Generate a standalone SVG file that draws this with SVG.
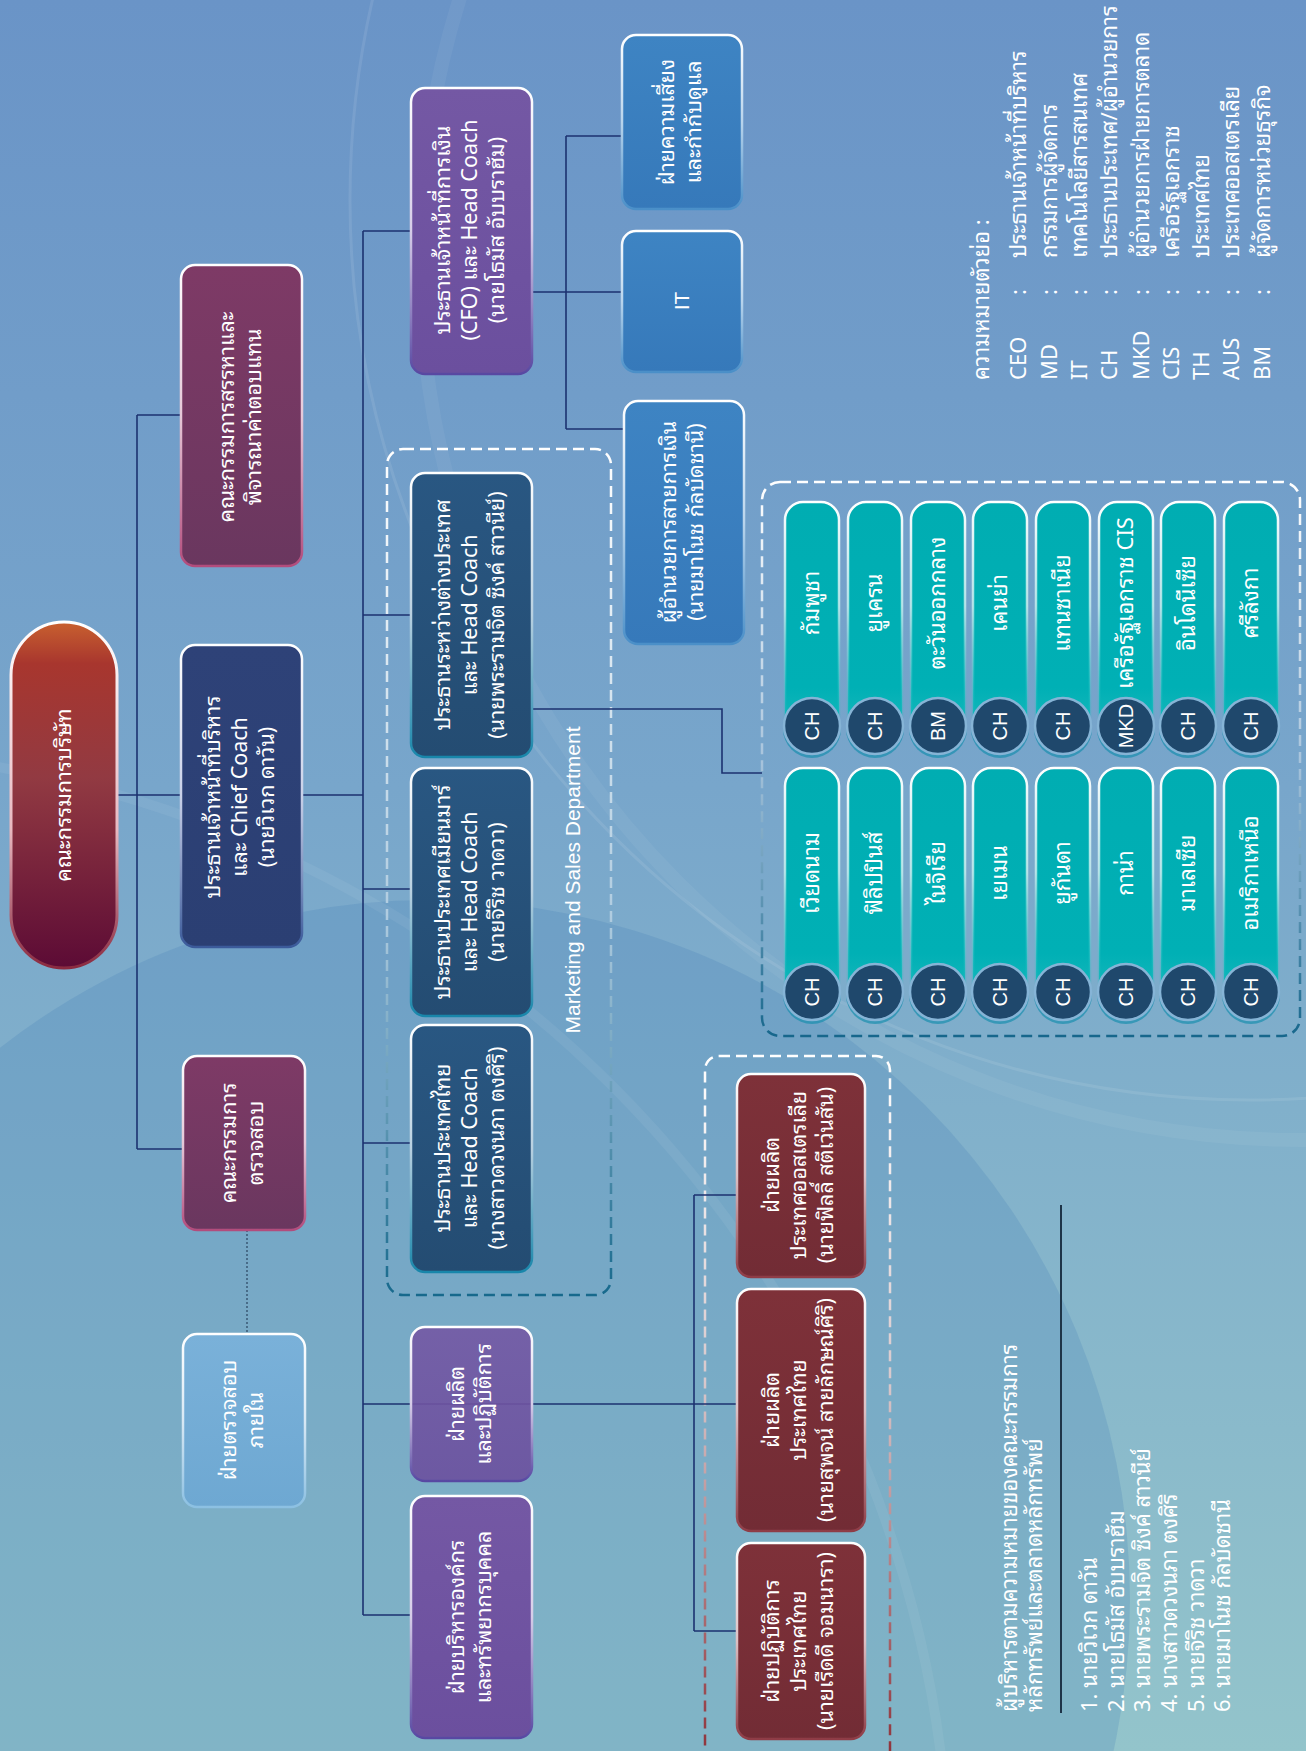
<svg xmlns="http://www.w3.org/2000/svg" width="1306" height="1751" viewBox="0 0 1306 1751">
<defs>
<linearGradient id="bg" x1="0" y1="0" x2="0" y2="1">
<stop offset="0" stop-color="#6a94c7"/><stop offset="0.45" stop-color="#78a6cb"/><stop offset="1" stop-color="#93c4cb"/>
</linearGradient>
<linearGradient id="gRoot" x1="0" y1="0" x2="0" y2="1">
<stop offset="0" stop-color="#c8602f"/><stop offset="0.12" stop-color="#a8362e"/><stop offset="0.45" stop-color="#923a42"/><stop offset="1" stop-color="#5c0b35"/>
</linearGradient>
<linearGradient id="sRoot" x1="0" y1="0" x2="0" y2="1">
<stop offset="0" stop-color="#ffffff"/><stop offset="0.6" stop-color="#e8b8c0"/><stop offset="1" stop-color="#8a2a40"/>
</linearGradient>
<linearGradient id="fMag" x1="0" y1="0" x2="0" y2="1"><stop offset="0" stop-color="#7e3a66"/><stop offset="1" stop-color="#6a375f"/></linearGradient>
<linearGradient id="sMag" x1="0" y1="0" x2="0" y2="1"><stop offset="0" stop-color="#ffffff"/><stop offset="0.5" stop-color="#e6c8d8"/><stop offset="1" stop-color="#b24c7c"/></linearGradient>
<linearGradient id="fNavy" x1="0" y1="0" x2="0" y2="1"><stop offset="0" stop-color="#2e4278"/><stop offset="1" stop-color="#2b3f73"/></linearGradient>
<linearGradient id="sNavy" x1="0" y1="0" x2="0" y2="1"><stop offset="0" stop-color="#ffffff"/><stop offset="0.5" stop-color="#c8d0e8"/><stop offset="1" stop-color="#3b5a9a"/></linearGradient>
<linearGradient id="fLight" x1="0" y1="0" x2="0" y2="1"><stop offset="0" stop-color="#7ab1d9"/><stop offset="1" stop-color="#6ea8d2"/></linearGradient>
<linearGradient id="sLight" x1="0" y1="0" x2="0" y2="1"><stop offset="0" stop-color="#ffffff"/><stop offset="0.5" stop-color="#d8e8f4"/><stop offset="1" stop-color="#8cc0e2"/></linearGradient>
<linearGradient id="fPur" x1="0" y1="0" x2="0" y2="1"><stop offset="0" stop-color="#7458a4"/><stop offset="1" stop-color="#6b4f9e"/></linearGradient>
<linearGradient id="sPur" x1="0" y1="0" x2="0" y2="1"><stop offset="0" stop-color="#ffffff"/><stop offset="0.5" stop-color="#d6cce8"/><stop offset="1" stop-color="#5848a2"/></linearGradient>
<linearGradient id="fMkt" x1="0" y1="0" x2="0" y2="1"><stop offset="0" stop-color="#295782"/><stop offset="1" stop-color="#244c72"/></linearGradient>
<linearGradient id="sMkt" x1="0" y1="0" x2="0" y2="1"><stop offset="0" stop-color="#ffffff"/><stop offset="0.5" stop-color="#b8d0e0"/><stop offset="1" stop-color="#1886aa"/></linearGradient>
<linearGradient id="fBlue" x1="0" y1="0" x2="0" y2="1"><stop offset="0" stop-color="#3e84c3"/><stop offset="1" stop-color="#3679ba"/></linearGradient>
<linearGradient id="sBlue" x1="0" y1="0" x2="0" y2="1"><stop offset="0" stop-color="#ffffff"/><stop offset="0.5" stop-color="#b8d4ec"/><stop offset="1" stop-color="#4a8fc8"/></linearGradient>
<linearGradient id="fMar" x1="0" y1="0" x2="0" y2="1"><stop offset="0" stop-color="#7e3139"/><stop offset="1" stop-color="#722c35"/></linearGradient>
<linearGradient id="sMar" x1="0" y1="0" x2="0" y2="1"><stop offset="0" stop-color="#ffffff"/><stop offset="0.5" stop-color="#dcc0c4"/><stop offset="1" stop-color="#8e3c46"/></linearGradient>
<linearGradient id="dMkt" x1="0" y1="0" x2="0" y2="1"><stop offset="0" stop-color="#ffffff"/><stop offset="0.55" stop-color="#b0cce0"/><stop offset="1" stop-color="#17698c"/></linearGradient>
<linearGradient id="dCty" x1="0" y1="0" x2="0" y2="1"><stop offset="0" stop-color="#ffffff"/><stop offset="0.5" stop-color="#a8c4dc"/><stop offset="1" stop-color="#17678c"/></linearGradient>
<linearGradient id="dPrd" x1="0" y1="0" x2="0" y2="1"><stop offset="0" stop-color="#ffffff"/><stop offset="0.45" stop-color="#d8c8cc"/><stop offset="1" stop-color="#8a2a32"/></linearGradient>
<linearGradient id="fPill" x1="0" y1="0" x2="0" y2="1"><stop offset="0" stop-color="#00adb2"/><stop offset="0.8" stop-color="#00b0b5"/><stop offset="1" stop-color="#1ab9bd"/></linearGradient>
<linearGradient id="sPill" x1="0" y1="0" x2="0" y2="1"><stop offset="0" stop-color="#ffffff"/><stop offset="0.45" stop-color="#c8f0f0" stop-opacity="0.8"/><stop offset="1" stop-color="#00b0b5" stop-opacity="0.2"/></linearGradient>
</defs>
<style>
.th{font-family:'Noto Sans Thai Looped','Noto Sans Thai',Tahoma,'Noto Sans','Liberation Sans','DejaVu Sans',sans-serif;fill:#ffffff;font-size:21.5px;text-anchor:middle}
.en{font-family:'Liberation Sans',Arial,sans-serif;fill:#ffffff;text-anchor:middle}
.lg{font-family:'Noto Sans Thai Looped','Noto Sans Thai',Tahoma,'Liberation Sans',sans-serif;fill:#ffffff;font-size:22px}
.nt{font-size:22px}
.box{stroke-width:2.5}
.ln{fill:none;stroke:#1c3270;stroke-width:1.6}
.dash{fill:none;stroke-width:2.5;stroke-dasharray:11 6}
.pill{fill:url(#fPill);stroke:url(#sPill);stroke-width:2.5}
.bad{fill:#1f486c;stroke:#86b4d6;stroke-width:2.5}
.badsh{fill:#1a8fae;opacity:0.7}
.ch{font-family:'Liberation Sans',Arial,sans-serif;fill:#ffffff;font-size:20px;text-anchor:middle}
.ct{font-size:22px}
</style>
<rect x="0" y="0" width="1306" height="1751" fill="url(#bg)"/>
<g id="background" fill="none">
<circle cx="430" cy="1600" r="700" fill="#3b79b4" opacity="0.2"/>
<circle cx="1250" cy="200" r="900" stroke="#ffffff" stroke-opacity="0.09" stroke-width="3"/>
<circle cx="1300" cy="260" r="880" stroke="#ffffff" stroke-opacity="0.05" stroke-width="14"/>
<circle cx="-200" cy="1900" r="1150" stroke="#ffffff" stroke-opacity="0.06" stroke-width="10"/>
</g>
<g id="groups">
<rect x="387" y="449" width="224" height="846" rx="16" class="dash" stroke="url(#dMkt)"/>
<text class="en" font-size="21" transform="translate(580,880) rotate(-90)">Marketing and Sales Department</text>
<rect x="762" y="482" width="538" height="554" rx="18" class="dash" stroke="url(#dCty)"/>
<rect x="705" y="1056" width="185" height="720" rx="14" class="dash" stroke="url(#dPrd)"/>
</g>
<g id="connectors">
<path class="ln" d="M117 795 H181 M137 415 V1149 M137 415 H181 M137 1149 H183"/>
<path d="M247 1230 V1334" fill="none" stroke="#2a4560" stroke-width="1.2" stroke-dasharray="2 2"/>
<path class="ln" d="M302 795 H363 M363 231 V1615 M363 231 H411 M363 615 H411 M363 889 H411 M363 1143 H411 M363 1404 H747 M363 1615 H411"/>
<path class="ln" d="M532 292 H622 M566 136 V429 M566 136 H622 M566 429 H624"/>
<path class="ln" d="M519 709 H722 V773 H762"/>
<path class="ln" d="M694 1195 V1631 M694 1195 H737 M694 1631 H737"/>
</g>
<g id="n-root">
<rect x="11" y="622" width="106" height="346" rx="53" fill="url(#gRoot)" stroke="url(#sRoot)" stroke-width="3"/>
<text class="th" transform="translate(64,795) rotate(-90)" y="7">คณะกรรมการบริษัท</text>
</g>
<g id="n-nomination">
<rect class="box" x="181" y="265" width="121" height="301" rx="14" fill="url(#fMag)" stroke="url(#sMag)"/>
<text class="th" transform="translate(242,417) rotate(-90)"><tspan x="0" y="-8">คณะกรรมการสรรหาและ</tspan><tspan x="0" y="19">พิจารณาค่าตอบแทน</tspan></text>
</g>
<g id="n-ceo">
<rect class="box" x="181" y="645" width="121" height="302" rx="14" fill="url(#fNavy)" stroke="url(#sNavy)"/>
<text class="th" transform="translate(241.5,797) rotate(-90)"><tspan x="0" y="-22">ประธานเจ้าหน้าที่บริหาร</tspan><tspan x="0" y="5">และ Chief Coach</tspan><tspan x="0" y="32">(นายวิเวก ดาวัน)</tspan></text>
</g>
<g id="n-audit">
<rect class="box" x="183" y="1056" width="122" height="174" rx="14" fill="url(#fMag)" stroke="url(#sMag)"/>
<text class="th" transform="translate(244,1143) rotate(-90)"><tspan x="0" y="-8">คณะกรรมการ</tspan><tspan x="0" y="19">ตรวจสอบ</tspan></text>
</g>
<g id="n-internal-audit">
<rect class="box" x="183" y="1334" width="122" height="173" rx="14" fill="url(#fLight)" stroke="url(#sLight)"/>
<text class="th" transform="translate(244,1420) rotate(-90)"><tspan x="0" y="-8">ฝ่ายตรวจสอบ</tspan><tspan x="0" y="19">ภายใน</tspan></text>
</g>
<g id="n-cfo">
<rect class="box" x="411" y="88" width="121" height="286" rx="14" fill="url(#fPur)" stroke="url(#sPur)"/>
<text class="th" transform="translate(471.5,230) rotate(-90)"><tspan x="0" y="-22">ประธานเจ้าหน้าที่การเงิน</tspan><tspan x="0" y="5">(CFO) และ Head Coach</tspan><tspan x="0" y="32">(นายโธมัส อับบราฮัม)</tspan></text>
</g>
<g id="n-overseas">
<rect class="box" x="411" y="473" width="121" height="284" rx="14" fill="url(#fMkt)" stroke="url(#sMkt)"/>
<text class="th" transform="translate(471.5,615) rotate(-90)"><tspan x="0" y="-22">ประธานระหว่างต่างประเทศ</tspan><tspan x="0" y="5">และ Head Coach</tspan><tspan x="0" y="32">(นายพระรามจิต ซิงค์ สาวนีย์)</tspan></text>
</g>
<g id="n-myanmar">
<rect class="box" x="411" y="768" width="121" height="248" rx="14" fill="url(#fMkt)" stroke="url(#sMkt)"/>
<text class="th" transform="translate(471.5,892) rotate(-90)"><tspan x="0" y="-22">ประธานประเทศเมียนมาร์</tspan><tspan x="0" y="5">และ Head Coach</tspan><tspan x="0" y="32">(นายจีริช วาดวา)</tspan></text>
</g>
<g id="n-thailand">
<rect class="box" x="411" y="1025" width="121" height="247" rx="14" fill="url(#fMkt)" stroke="url(#sMkt)"/>
<text class="th" transform="translate(471.5,1148) rotate(-90)"><tspan x="0" y="-22">ประธานประเทศไทย</tspan><tspan x="0" y="5">และ Head Coach</tspan><tspan x="0" y="32">(นางสาวดวงนภา ตงศิริ)</tspan></text>
</g>
<g id="n-production-ops">
<rect class="box" x="411" y="1327" width="121" height="154" rx="14" fill="url(#fPur)" fill-opacity="0.9" stroke="url(#sPur)"/>
<text class="th" transform="translate(471.5,1404) rotate(-90)"><tspan x="0" y="-8">ฝ่ายผลิต</tspan><tspan x="0" y="19">และปฏิบัติการ</tspan></text>
</g>
<g id="n-hr">
<rect class="box" x="411" y="1496" width="121" height="242" rx="14" fill="url(#fPur)" stroke="url(#sPur)"/>
<text class="th" transform="translate(471.5,1617) rotate(-90)"><tspan x="0" y="-8">ฝ่ายบริหารองค์กร</tspan><tspan x="0" y="19">และทรัพยากรบุคคล</tspan></text>
</g>
<g id="n-risk">
<rect class="box" x="622" y="35" width="120" height="174" rx="14" fill="url(#fBlue)" stroke="url(#sBlue)"/>
<text class="th" transform="translate(682,122) rotate(-90)"><tspan x="0" y="-8">ฝ่ายความเสี่ยง</tspan><tspan x="0" y="19">และกำกับดูแล</tspan></text>
</g>
<g id="n-it">
<rect class="box" x="622" y="231" width="120" height="141" rx="14" fill="url(#fBlue)" stroke="url(#sBlue)"/>
<text class="en" font-size="21" transform="translate(682,301) rotate(-90)" y="7">IT</text>
</g>
<g id="n-finance">
<rect class="box" x="624" y="401" width="120" height="243" rx="14" fill="url(#fBlue)" stroke="url(#sBlue)"/>
<text class="th" transform="translate(684,522) rotate(-90)"><tspan x="0" y="-8">ผู้อำนวยการสายการเงิน</tspan><tspan x="0" y="19">(นายมาโนช กัลบัดชานี)</tspan></text>
</g>
<g id="n-prod-aus">
<rect class="box" x="737" y="1074" width="128" height="203" rx="14" fill="url(#fMar)" stroke="url(#sMar)"/>
<text class="th" transform="translate(801,1175) rotate(-90)"><tspan x="0" y="-22">ฝ่ายผลิต</tspan><tspan x="0" y="5">ประเทศออสเตรเลีย</tspan><tspan x="0" y="32">(นายฟิลลิ์ สตีเว่นสัน)</tspan></text>
</g>
<g id="n-prod-th">
<rect class="box" x="737" y="1289" width="128" height="242" rx="14" fill="url(#fMar)" stroke="url(#sMar)"/>
<text class="th" transform="translate(801,1410) rotate(-90)"><tspan x="0" y="-22">ฝ่ายผลิต</tspan><tspan x="0" y="5">ประเทศไทย</tspan><tspan x="0" y="32">(นายสุพจน์ สายลักษณ์ศิริ)</tspan></text>
</g>
<g id="n-ops-th">
<rect class="box" x="737" y="1543" width="128" height="196" rx="14" fill="url(#fMar)" stroke="url(#sMar)"/>
<text class="th" transform="translate(801,1641) rotate(-90)"><tspan x="0" y="-22">ฝ่ายปฏิบัติการ</tspan><tspan x="0" y="5">ประเทศไทย</tspan><tspan x="0" y="32">(นายเรืดดี จอมนารา)</tspan></text>
</g>
<g id="countries">
<g id="c-cambodia"><rect class="pill" x="785" y="502" width="54" height="232" rx="18"/><circle class="badsh" cx="812" cy="729" r="29"/><circle class="bad" cx="812" cy="726" r="28"/><text class="th ct" transform="translate(812,603) rotate(-90)" y="7">กัมพูชา</text><text class="ch" transform="translate(812,726) rotate(-90)" y="7">CH</text></g>
<g id="c-ukraine"><rect class="pill" x="848" y="502" width="54" height="232" rx="18"/><circle class="badsh" cx="875" cy="729" r="29"/><circle class="bad" cx="875" cy="726" r="28"/><text class="th ct" transform="translate(875,603) rotate(-90)" y="7">ยูเครน</text><text class="ch" transform="translate(875,726) rotate(-90)" y="7">CH</text></g>
<g id="c-middleeast"><rect class="pill" x="911" y="502" width="54" height="232" rx="18"/><circle class="badsh" cx="938" cy="729" r="29"/><circle class="bad" cx="938" cy="726" r="28"/><text class="th ct" transform="translate(938,603) rotate(-90)" y="7">ตะวันออกกลาง</text><text class="ch" transform="translate(938,726) rotate(-90)" y="7">BM</text></g>
<g id="c-kenya"><rect class="pill" x="973" y="502" width="54" height="232" rx="18"/><circle class="badsh" cx="1000" cy="729" r="29"/><circle class="bad" cx="1000" cy="726" r="28"/><text class="th ct" transform="translate(1000,603) rotate(-90)" y="7">เคนย่า</text><text class="ch" transform="translate(1000,726) rotate(-90)" y="7">CH</text></g>
<g id="c-tanzania"><rect class="pill" x="1036" y="502" width="54" height="232" rx="18"/><circle class="badsh" cx="1063" cy="729" r="29"/><circle class="bad" cx="1063" cy="726" r="28"/><text class="th ct" transform="translate(1063,603) rotate(-90)" y="7">แทนซาเนีย</text><text class="ch" transform="translate(1063,726) rotate(-90)" y="7">CH</text></g>
<g id="c-cis"><rect class="pill" x="1099" y="502" width="54" height="232" rx="18"/><circle class="badsh" cx="1126" cy="729" r="29"/><circle class="bad" cx="1126" cy="726" r="28"/><text class="th ct" transform="translate(1126,603) rotate(-90)" y="7">เครือรัฐเอกราช CIS</text><text class="ch" transform="translate(1126,726) rotate(-90)" y="7">MKD</text></g>
<g id="c-indonesia"><rect class="pill" x="1161" y="502" width="54" height="232" rx="18"/><circle class="badsh" cx="1188" cy="729" r="29"/><circle class="bad" cx="1188" cy="726" r="28"/><text class="th ct" transform="translate(1188,603) rotate(-90)" y="7">อินโดนีเซีย</text><text class="ch" transform="translate(1188,726) rotate(-90)" y="7">CH</text></g>
<g id="c-srilanka"><rect class="pill" x="1224" y="502" width="54" height="232" rx="18"/><circle class="badsh" cx="1251" cy="729" r="29"/><circle class="bad" cx="1251" cy="726" r="28"/><text class="th ct" transform="translate(1251,603) rotate(-90)" y="7">ศรีลังกา</text><text class="ch" transform="translate(1251,726) rotate(-90)" y="7">CH</text></g>
<g id="c-vietnam"><rect class="pill" x="785" y="768" width="54" height="232" rx="18"/><circle class="badsh" cx="812" cy="995" r="29"/><circle class="bad" cx="812" cy="992" r="28"/><text class="th ct" transform="translate(812,873) rotate(-90)" y="7">เวียดนาม</text><text class="ch" transform="translate(812,992) rotate(-90)" y="7">CH</text></g>
<g id="c-philippines"><rect class="pill" x="848" y="768" width="54" height="232" rx="18"/><circle class="badsh" cx="875" cy="995" r="29"/><circle class="bad" cx="875" cy="992" r="28"/><text class="th ct" transform="translate(875,873) rotate(-90)" y="7">ฟิลิปปินส์</text><text class="ch" transform="translate(875,992) rotate(-90)" y="7">CH</text></g>
<g id="c-nigeria"><rect class="pill" x="911" y="768" width="54" height="232" rx="18"/><circle class="badsh" cx="938" cy="995" r="29"/><circle class="bad" cx="938" cy="992" r="28"/><text class="th ct" transform="translate(938,873) rotate(-90)" y="7">ไนจีเรีย</text><text class="ch" transform="translate(938,992) rotate(-90)" y="7">CH</text></g>
<g id="c-yemen"><rect class="pill" x="973" y="768" width="54" height="232" rx="18"/><circle class="badsh" cx="1000" cy="995" r="29"/><circle class="bad" cx="1000" cy="992" r="28"/><text class="th ct" transform="translate(1000,873) rotate(-90)" y="7">เยเมน</text><text class="ch" transform="translate(1000,992) rotate(-90)" y="7">CH</text></g>
<g id="c-uganda"><rect class="pill" x="1036" y="768" width="54" height="232" rx="18"/><circle class="badsh" cx="1063" cy="995" r="29"/><circle class="bad" cx="1063" cy="992" r="28"/><text class="th ct" transform="translate(1063,873) rotate(-90)" y="7">ยูกันดา</text><text class="ch" transform="translate(1063,992) rotate(-90)" y="7">CH</text></g>
<g id="c-ghana"><rect class="pill" x="1099" y="768" width="54" height="232" rx="18"/><circle class="badsh" cx="1126" cy="995" r="29"/><circle class="bad" cx="1126" cy="992" r="28"/><text class="th ct" transform="translate(1126,873) rotate(-90)" y="7">กาน่า</text><text class="ch" transform="translate(1126,992) rotate(-90)" y="7">CH</text></g>
<g id="c-malaysia"><rect class="pill" x="1161" y="768" width="54" height="232" rx="18"/><circle class="badsh" cx="1188" cy="995" r="29"/><circle class="bad" cx="1188" cy="992" r="28"/><text class="th ct" transform="translate(1188,873) rotate(-90)" y="7">มาเลเซีย</text><text class="ch" transform="translate(1188,992) rotate(-90)" y="7">CH</text></g>
<g id="c-northamerica"><rect class="pill" x="1224" y="768" width="54" height="232" rx="18"/><circle class="badsh" cx="1251" cy="995" r="29"/><circle class="bad" cx="1251" cy="992" r="28"/><text class="th ct" transform="translate(1251,873) rotate(-90)" y="7">อเมริกาเหนือ</text><text class="ch" transform="translate(1251,992) rotate(-90)" y="7">CH</text></g>
</g>
<g id="legend">
<text class="lg" transform="translate(989,380) rotate(-90)">ความหมายตัวย่อ :</text>
<g class="lg">
<text transform="translate(1026,380) rotate(-90)">CEO<tspan x="85">:</tspan><tspan x="122">ประธานเจ้าหน้าที่บริหาร</tspan></text>
<text transform="translate(1057,380) rotate(-90)">MD<tspan x="85">:</tspan><tspan x="122">กรรมการผู้จัดการ</tspan></text>
<text transform="translate(1087,380) rotate(-90)">IT<tspan x="85">:</tspan><tspan x="122">เทคโนโลยีสารสนเทศ</tspan></text>
<text transform="translate(1117,380) rotate(-90)">CH<tspan x="85">:</tspan><tspan x="122">ประธานประเทศ/ผู้อำนวยการ</tspan></text>
<text transform="translate(1149,380) rotate(-90)">MKD<tspan x="85">:</tspan><tspan x="122">ผู้อำนวยการฝ่ายการตลาด</tspan></text>
<text transform="translate(1179,380) rotate(-90)">CIS<tspan x="85">:</tspan><tspan x="122">เครือรัฐเอกราช</tspan></text>
<text transform="translate(1209,380) rotate(-90)">TH<tspan x="85">:</tspan><tspan x="122">ประเทศไทย</tspan></text>
<text transform="translate(1239,380) rotate(-90)">AUS<tspan x="85">:</tspan><tspan x="122">ประเทศออสเตรเลีย</tspan></text>
<text transform="translate(1270,380) rotate(-90)">BM<tspan x="85">:</tspan><tspan x="122">ผู้จัดการหน่วยธุรกิจ</tspan></text>
</g>
</g>
<g id="notes">
<path d="M1061 1205 V1713" stroke="#1e3448" stroke-width="2" fill="none"/>
<g class="lg nt">
<text transform="translate(1017,1712) rotate(-90)">ผู้บริหารตามความหมายของคณะกรรมการ</text>
<text transform="translate(1042,1712) rotate(-90)">หลักทรัพย์และตลาดหลักทรัพย์</text>
<text transform="translate(1097,1712) rotate(-90)">1. นายวิเวก ดาวัน</text>
<text transform="translate(1124,1712) rotate(-90)">2. นายโธมัส อับบราฮัม</text>
<text transform="translate(1150,1712) rotate(-90)">3. นายพระรามจิต ซิงค์ สาวนีย์</text>
<text transform="translate(1177,1712) rotate(-90)">4. นางสาวดวงนภา ตงศิริ</text>
<text transform="translate(1204,1712) rotate(-90)">5. นายจีริช วาดวา</text>
<text transform="translate(1230,1712) rotate(-90)">6. นายมาโนช กัลบัดชานี</text>
</g>
</g>
</svg>
